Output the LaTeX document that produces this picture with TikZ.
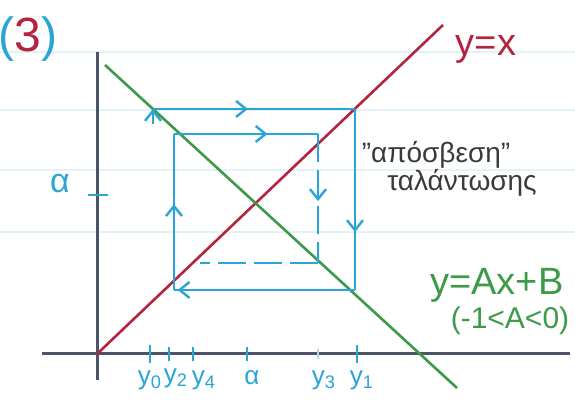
\documentclass[tikz,border=0pt]{standalone}
\usepackage{fontspec}
\setmainfont{Liberation Sans}
\usetikzlibrary{arrows.meta,decorations.markings}
\definecolor{webCyan}{HTML}{2AA5D6}
\definecolor{lineRed}{HTML}{B3243F}
\definecolor{lineGreen}{HTML}{3C9A48}
\definecolor{axisGrey}{HTML}{4B5468}
\definecolor{paperRule}{HTML}{E3F1F8}
\definecolor{noteGrey}{HTML}{3A3A3A}

\begin{document}
\begin{tikzpicture}[x=0.5pt, y=0.5pt,
  web/.style={draw=webCyan, line width=1.2pt},
  midarrow/.style={postaction={decorate}, decoration={markings,
    mark=at position #1 with {\arrow{Straight Barb[length=5pt,width=8pt]}}}},
  tickmark/.style={draw=webCyan, line width=1.1pt},
  ticklabel/.style={text=webCyan, font=\fontsize{13}{15}\selectfont, inner sep=1pt}]
  \useasboundingbox[fill=white] (0,0) rectangle (575,405);

  % ruled paper
  \draw[paperRule, line width=0.8pt] (0,353) -- (575,353);
  \draw[paperRule, line width=0.8pt] (0,295) -- (575,295);
  \draw[paperRule, line width=0.8pt] (0,235) -- (575,235);
  \draw[paperRule, line width=0.8pt] (0,173) -- (575,173);

  % axes
  \coordinate (O) at (97,51);
  \draw[axisGrey, line width=1.5pt] (42,51) -- (570,51);
  \draw[axisGrey, line width=1.5pt] (98,25) -- (98,353);

  % y = x  and  y = Ax + B
  \coordinate (redEnd) at (443,380);
  \coordinate (greenStart) at (105,340);
  \coordinate (greenEnd) at (457,17);
  \draw[lineRed, line width=1.3pt] (O) -- (redEnd);
  \draw[lineGreen, line width=1.3pt] (greenStart) -- (greenEnd);

  % cobweb corners
  \coordinate (p0) at (153,296);
  \coordinate (p1) at (355,296);
  \coordinate (p2) at (355,115);
  \coordinate (p3) at (174,115);
  \coordinate (p4) at (174,271);
  \coordinate (p5) at (318,271);
  \coordinate (p6) at (318,142);
  \coordinate (p7) at (200,142);
  \coordinate (s0) at (153,281);

  \draw[web, -{Straight Barb[length=5pt,width=8pt]}] (s0) -- (p0);
  \draw[web, midarrow=0.47] (p0) -- (p1);
  \draw[web, midarrow=0.68] (p1) -- (p2);
  \draw[web, midarrow=0.98] (p2) -- (p3);
  \draw[web, midarrow=0.55] (p3) -- (p4);
  \draw[web, midarrow=0.65] (p4) -- (p5);
  \draw[web, dashed, dash pattern=on 14pt off 4pt, midarrow=0.52] (p5) -- (p6);
  \draw[web, dashed, dash pattern=on 14pt off 4pt] (p6) -- (p7);

  % ticks
  \draw[tickmark] (88,210) -- (108,210);
  \draw[tickmark] (150,42) -- (150,60);
  \draw[tickmark] (169,44) -- (169,58);
  \draw[tickmark] (193,44) -- (193,58);
  \draw[tickmark] (247,44) -- (247,58);
  \draw[tickmark, webCyan!40] (318,46) -- (318,56);
  \draw[tickmark] (357,42) -- (357,60);

  % labels
  \node[text=webCyan, font=\fontsize{24}{26}\selectfont] (num) at (28,366) {(\textcolor{lineRed}{3})};
  \node[text=lineRed, font=\fontsize{19}{22}\selectfont] (idLabel) at (486,356) {y=x};
  \node[text=webCyan, font=\fontsize{17}{19}\selectfont] (alphaY) at (60,221) {α};
  \node[text=noteGrey, font=\fontsize{14}{16}\selectfont] (note1) at (436,250) {\char"22 απόσβεση\char"22};
  \node[text=noteGrey, font=\fontsize{14}{16}\selectfont] (note2) at (462,222) {ταλάντωσης};
  \node[text=lineGreen, font=\fontsize{19}{22}\selectfont] (mapLabel) at (497,120) {y=Ax+B};
  \node[text=lineGreen, font=\fontsize{15}{18}\selectfont] (condLabel) at (510,84) {(-1<A<0)};

  \node[ticklabel] (y0) at (150,25) {y\textsubscript{0}};
  \node[ticklabel] (y2) at (176,27) {y\textsubscript{2}};
  \node[ticklabel] (y4) at (204,25) {y\textsubscript{4}};
  \node[ticklabel] (alphaX) at (252,27) {α};
  \node[ticklabel] (y3) at (324,25) {y\textsubscript{3}};
  \node[ticklabel] (y1) at (362,25) {y\textsubscript{1}};
\end{tikzpicture}
\end{document}
